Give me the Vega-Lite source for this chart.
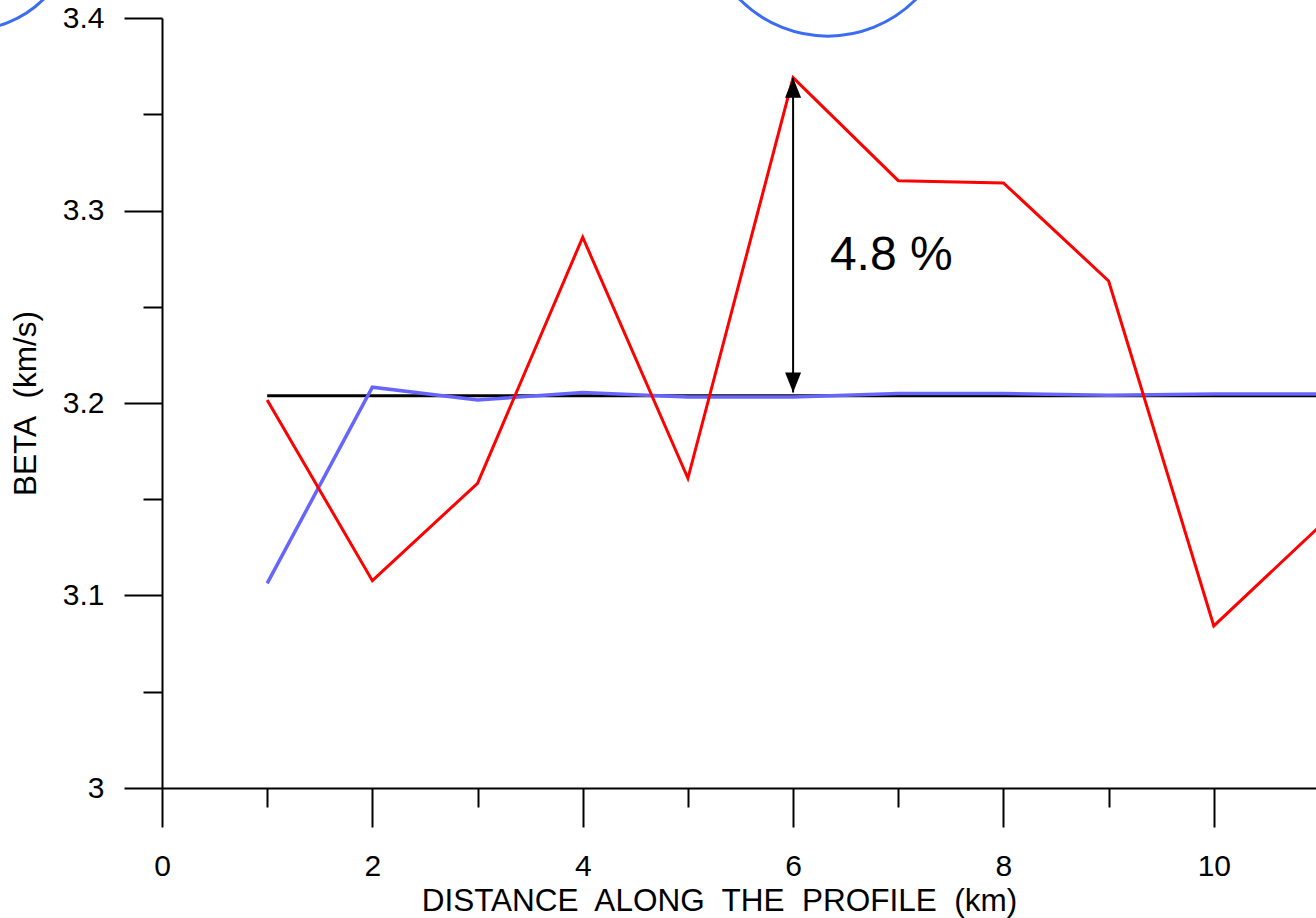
{
  "$schema": "https://vega.github.io/schema/vega-lite/v6.json",
  "autosize": {"type": "none"},
  "width": 1157,
  "height": 770,
  "padding": {"left": 162, "top": 18, "right": 0, "bottom": 130},
  "background": "white",
  "config": {
    "view": {"stroke": null},
    "font": "Liberation Sans",
    "axis": {"grid": false, "labelFlush": false, "domainColor": "black", "domainWidth": 2, "tickColor": "black", "tickWidth": 2, "labelColor": "black", "titleColor": "black", "labelFont": "Liberation Sans", "titleFont": "Liberation Sans", "labelFontSize": 30, "titleFontSize": 31.5, "titleFontWeight": "normal"}
  },
  "datasets": {
    "profile": [
      {"km": 1, "red": 3.2016, "blue": 3.1063, "ref": 3.2038},
      {"km": 2, "red": 3.1077, "blue": 3.2082, "ref": 3.2038},
      {"km": 3, "red": 3.1583, "blue": 3.2016, "ref": 3.2038},
      {"km": 4, "red": 3.2861, "blue": 3.2054, "ref": 3.2038},
      {"km": 5, "red": 3.1609, "blue": 3.2031, "ref": 3.2038},
      {"km": 6, "red": 3.369, "blue": 3.2031, "ref": 3.2038},
      {"km": 7, "red": 3.3155, "blue": 3.2049, "ref": 3.2038},
      {"km": 8, "red": 3.3143, "blue": 3.2049, "ref": 3.2038},
      {"km": 9, "red": 3.2634, "blue": 3.204, "ref": 3.2038},
      {"km": 10, "red": 3.0842, "blue": 3.2047, "ref": 3.2038},
      {"km": 11, "red": 3.1356, "blue": 3.2047, "ref": 3.2038}
    ],
    "arrow": [{"km": 6, "low": 3.2055, "high": 3.369}],
    "note": [{"km": 6.35, "v": 3.269, "label": "4.8 %"}],
    "bigCircle": [{"km": 6.33, "v": 3.455}],
    "smallCircle": [{"km": -1.825, "v": 3.448}]
  },
  "layer": [
    {
      "data": {"name": "profile"},
      "mark": {"type": "line", "color": "black", "strokeWidth": 3},
      "encoding": {
        "x": {"field": "km", "type": "quantitative", "scale": {"domain": [0, 11], "nice": false},
          "axis": {"values": [0,1,2,3,4,5,6,7,8,9,10,11], "format": "d", "title": "DISTANCE\u00a0 ALONG\u00a0 THE\u00a0 PROFILE\u00a0 (km)",
            "tickSize": {"condition": {"test": "datum.value % 2 === 0", "value": 39}, "value": 19},
            "labelExpr": "datum.value % 2 === 0 ? datum.label : ''", "labelPadding": 24, "titlePadding": 4, "titleX": 557, "titleAnchor": null}},
        "y": {"field": "ref", "type": "quantitative", "scale": {"domain": [3, 3.4], "nice": false, "zero": false},
          "axis": {"values": [3, 3.05, 3.1, 3.15, 3.2, 3.25, 3.3, 3.35, 3.4], "format": "~g", "title": "BETA\u00a0 (km/s)",
            "tickSize": {"condition": {"test": "abs(round(datum.value*10) - datum.value*10) < 0.01", "value": 38}, "value": 19},
            "labelExpr": "abs(round(datum.value*10) - datum.value*10) < 0.01 ? datum.label : ''", "labelPadding": 20, "titlePadding": 20}}
      }
    },
    {
      "data": {"name": "profile"},
      "mark": {"type": "line", "color": "#6666ff", "strokeWidth": 3.5},
      "encoding": {"x": {"field": "km", "type": "quantitative"}, "y": {"field": "blue", "type": "quantitative"}}
    },
    {
      "data": {"name": "profile"},
      "mark": {"type": "line", "color": "#ff0000", "strokeWidth": 3},
      "encoding": {"x": {"field": "km", "type": "quantitative"}, "y": {"field": "red", "type": "quantitative"}}
    },
    {
      "data": {"name": "arrow"},
      "mark": {"type": "rule", "color": "black", "strokeWidth": 2},
      "encoding": {"x": {"field": "km", "type": "quantitative"}, "y": {"field": "low", "type": "quantitative"}, "y2": {"field": "high"}}
    },
    {
      "data": {"name": "arrow"},
      "mark": {"type": "point", "filled": true, "color": "black", "opacity": 1, "size": 400, "shape": "M0,0 L-0.8,2 L0.8,2 Z"},
      "encoding": {"x": {"field": "km", "type": "quantitative"}, "y": {"field": "high", "type": "quantitative"}}
    },
    {
      "data": {"name": "arrow"},
      "mark": {"type": "point", "filled": true, "color": "black", "opacity": 1, "size": 400, "shape": "M0,0 L-0.8,-2 L0.8,-2 Z"},
      "encoding": {"x": {"field": "km", "type": "quantitative"}, "y": {"field": "low", "type": "quantitative"}}
    },
    {
      "data": {"name": "note"},
      "mark": {"type": "text", "align": "left", "baseline": "alphabetic", "fontSize": 48, "font": "Liberation Sans", "color": "black"},
      "encoding": {"x": {"field": "km", "type": "quantitative"}, "y": {"field": "v", "type": "quantitative"}, "text": {"field": "label"}}
    },
    {
      "data": {"name": "bigCircle"},
      "mark": {"type": "point", "filled": false, "color": "#3a6cf4", "strokeWidth": 3, "opacity": 1, "shape": "circle", "clip": false, "size": 61504},
      "encoding": {"x": {"field": "km", "type": "quantitative"}, "y": {"field": "v", "type": "quantitative"}}
    },
    {
      "data": {"name": "smallCircle"},
      "mark": {"type": "point", "filled": false, "color": "#3a6cf4", "strokeWidth": 3, "opacity": 1, "shape": "circle", "clip": false, "size": 43264},
      "encoding": {"x": {"field": "km", "type": "quantitative"}, "y": {"field": "v", "type": "quantitative"}}
    }
  ]
}
